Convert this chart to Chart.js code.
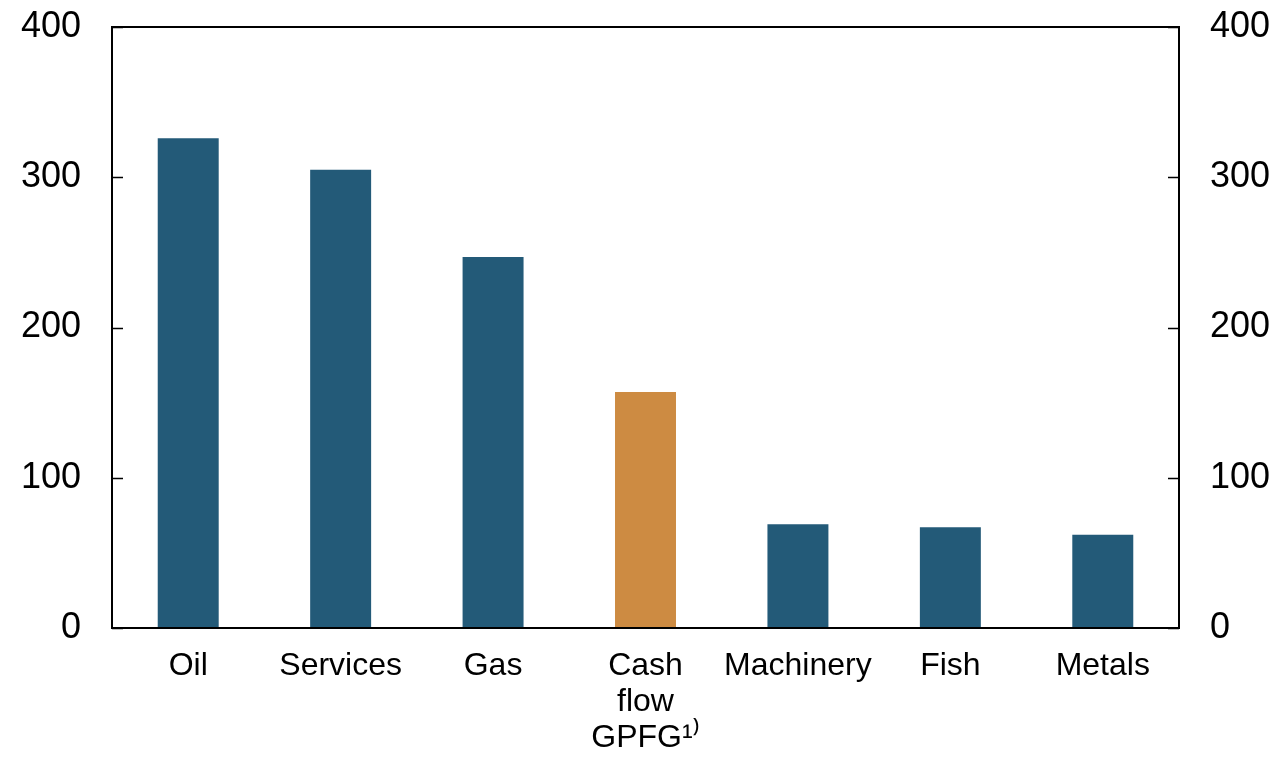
<!DOCTYPE html>
<html lang="en">
<head>
    <meta charset="UTF-8">
    <title>Exports chart</title>
    <script src="https://cdn.jsdelivr.net/npm/chart.js"></script>
    <style>
        html, body { margin: 0; padding: 0; background: #fff; }
        #chart { display: block; }
    </style>
</head>
<body>
    <canvas id="chart" width="1281" height="757"></canvas>
    <script>
        // Data
        const categories = ['Oil', 'Services', 'Gas', ['Cash', 'flow', 'GPFG¹⁾'], 'Machinery', 'Fish', 'Metals'];
        const values = [326, 305, 247, 157, 69, 67, 62];
        const yTicks = [0, 100, 200, 300, 400];
        const highlightIndex = 3;

        const blue = '#235a78';
        const orange = '#cd8b42';
        const barColors = values.map((v, i) => i === highlightIndex ? orange : blue);

        // Frame box and inward tick marks
        const framePlugin = {
            id: 'frame',
            afterDraw(chart) {
                const ctx = chart.ctx;
                const a = chart.chartArea;
                ctx.save();
                ctx.strokeStyle = '#000';
                ctx.lineWidth = 2;
                ctx.strokeRect(a.left, a.top, a.right - a.left, a.bottom - a.top);
                ctx.lineWidth = 1.5;
                const yl = chart.scales.y;
                yTicks.forEach(t => {
                    const py = Math.round(yl.getPixelForValue(t)) + 0.5;
                    ctx.beginPath();
                    ctx.moveTo(a.left, py);
                    ctx.lineTo(a.left + 11, py);
                    ctx.moveTo(a.right, py);
                    ctx.lineTo(a.right - 11, py);
                    ctx.stroke();
                });
                ctx.restore();
            }
        };

        const tickFont = { family: 'Liberation Sans, Arial, sans-serif', size: 36 };

        function fitY(width) {
            return function (scale) {
                scale.width = width;
                scale.paddingTop = 0;
                scale.paddingBottom = 0;
            };
        }

        new Chart(document.getElementById('chart'), {
            type: 'bar',
            data: {
                labels: categories,
                datasets: [{
                    data: values,
                    backgroundColor: barColors,
                    borderWidth: 0,
                    categoryPercentage: 1,
                    barPercentage: 0.4
                }]
            },
            options: {
                responsive: false,
                animation: false,
                devicePixelRatio: 1,
                layout: { padding: { top: 27, left: 0, right: 0, bottom: 0 } },
                plugins: { legend: { display: false }, tooltip: { enabled: false } },
                scales: {
                    x: {
                        grid: { display: false, drawTicks: false },
                        border: { display: false },
                        ticks: {
                            color: '#000',
                            maxRotation: 0,
                            autoSkip: false,
                            padding: 20,
                            font: { family: 'Liberation Sans, Arial, sans-serif', size: 32, lineHeight: 1.13 }
                        },
                        afterFit(scale) {
                            scale.height = 129;
                            scale.paddingLeft = 0;
                            scale.paddingRight = 0;
                        }
                    },
                    y: {
                        position: 'left',
                        min: 0,
                        max: 400,
                        grid: { display: false, drawTicks: false },
                        border: { display: false },
                        ticks: { stepSize: 100, color: '#000', padding: 31, font: tickFont },
                        afterFit: fitY(112)
                    },
                    y2: {
                        position: 'right',
                        min: 0,
                        max: 400,
                        grid: { display: false, drawTicks: false },
                        border: { display: false },
                        ticks: { stepSize: 100, color: '#000', padding: 31, font: tickFont },
                        afterFit: fitY(102)
                    }
                }
            },
            plugins: [framePlugin]
        });
    </script>
</body>
</html>
